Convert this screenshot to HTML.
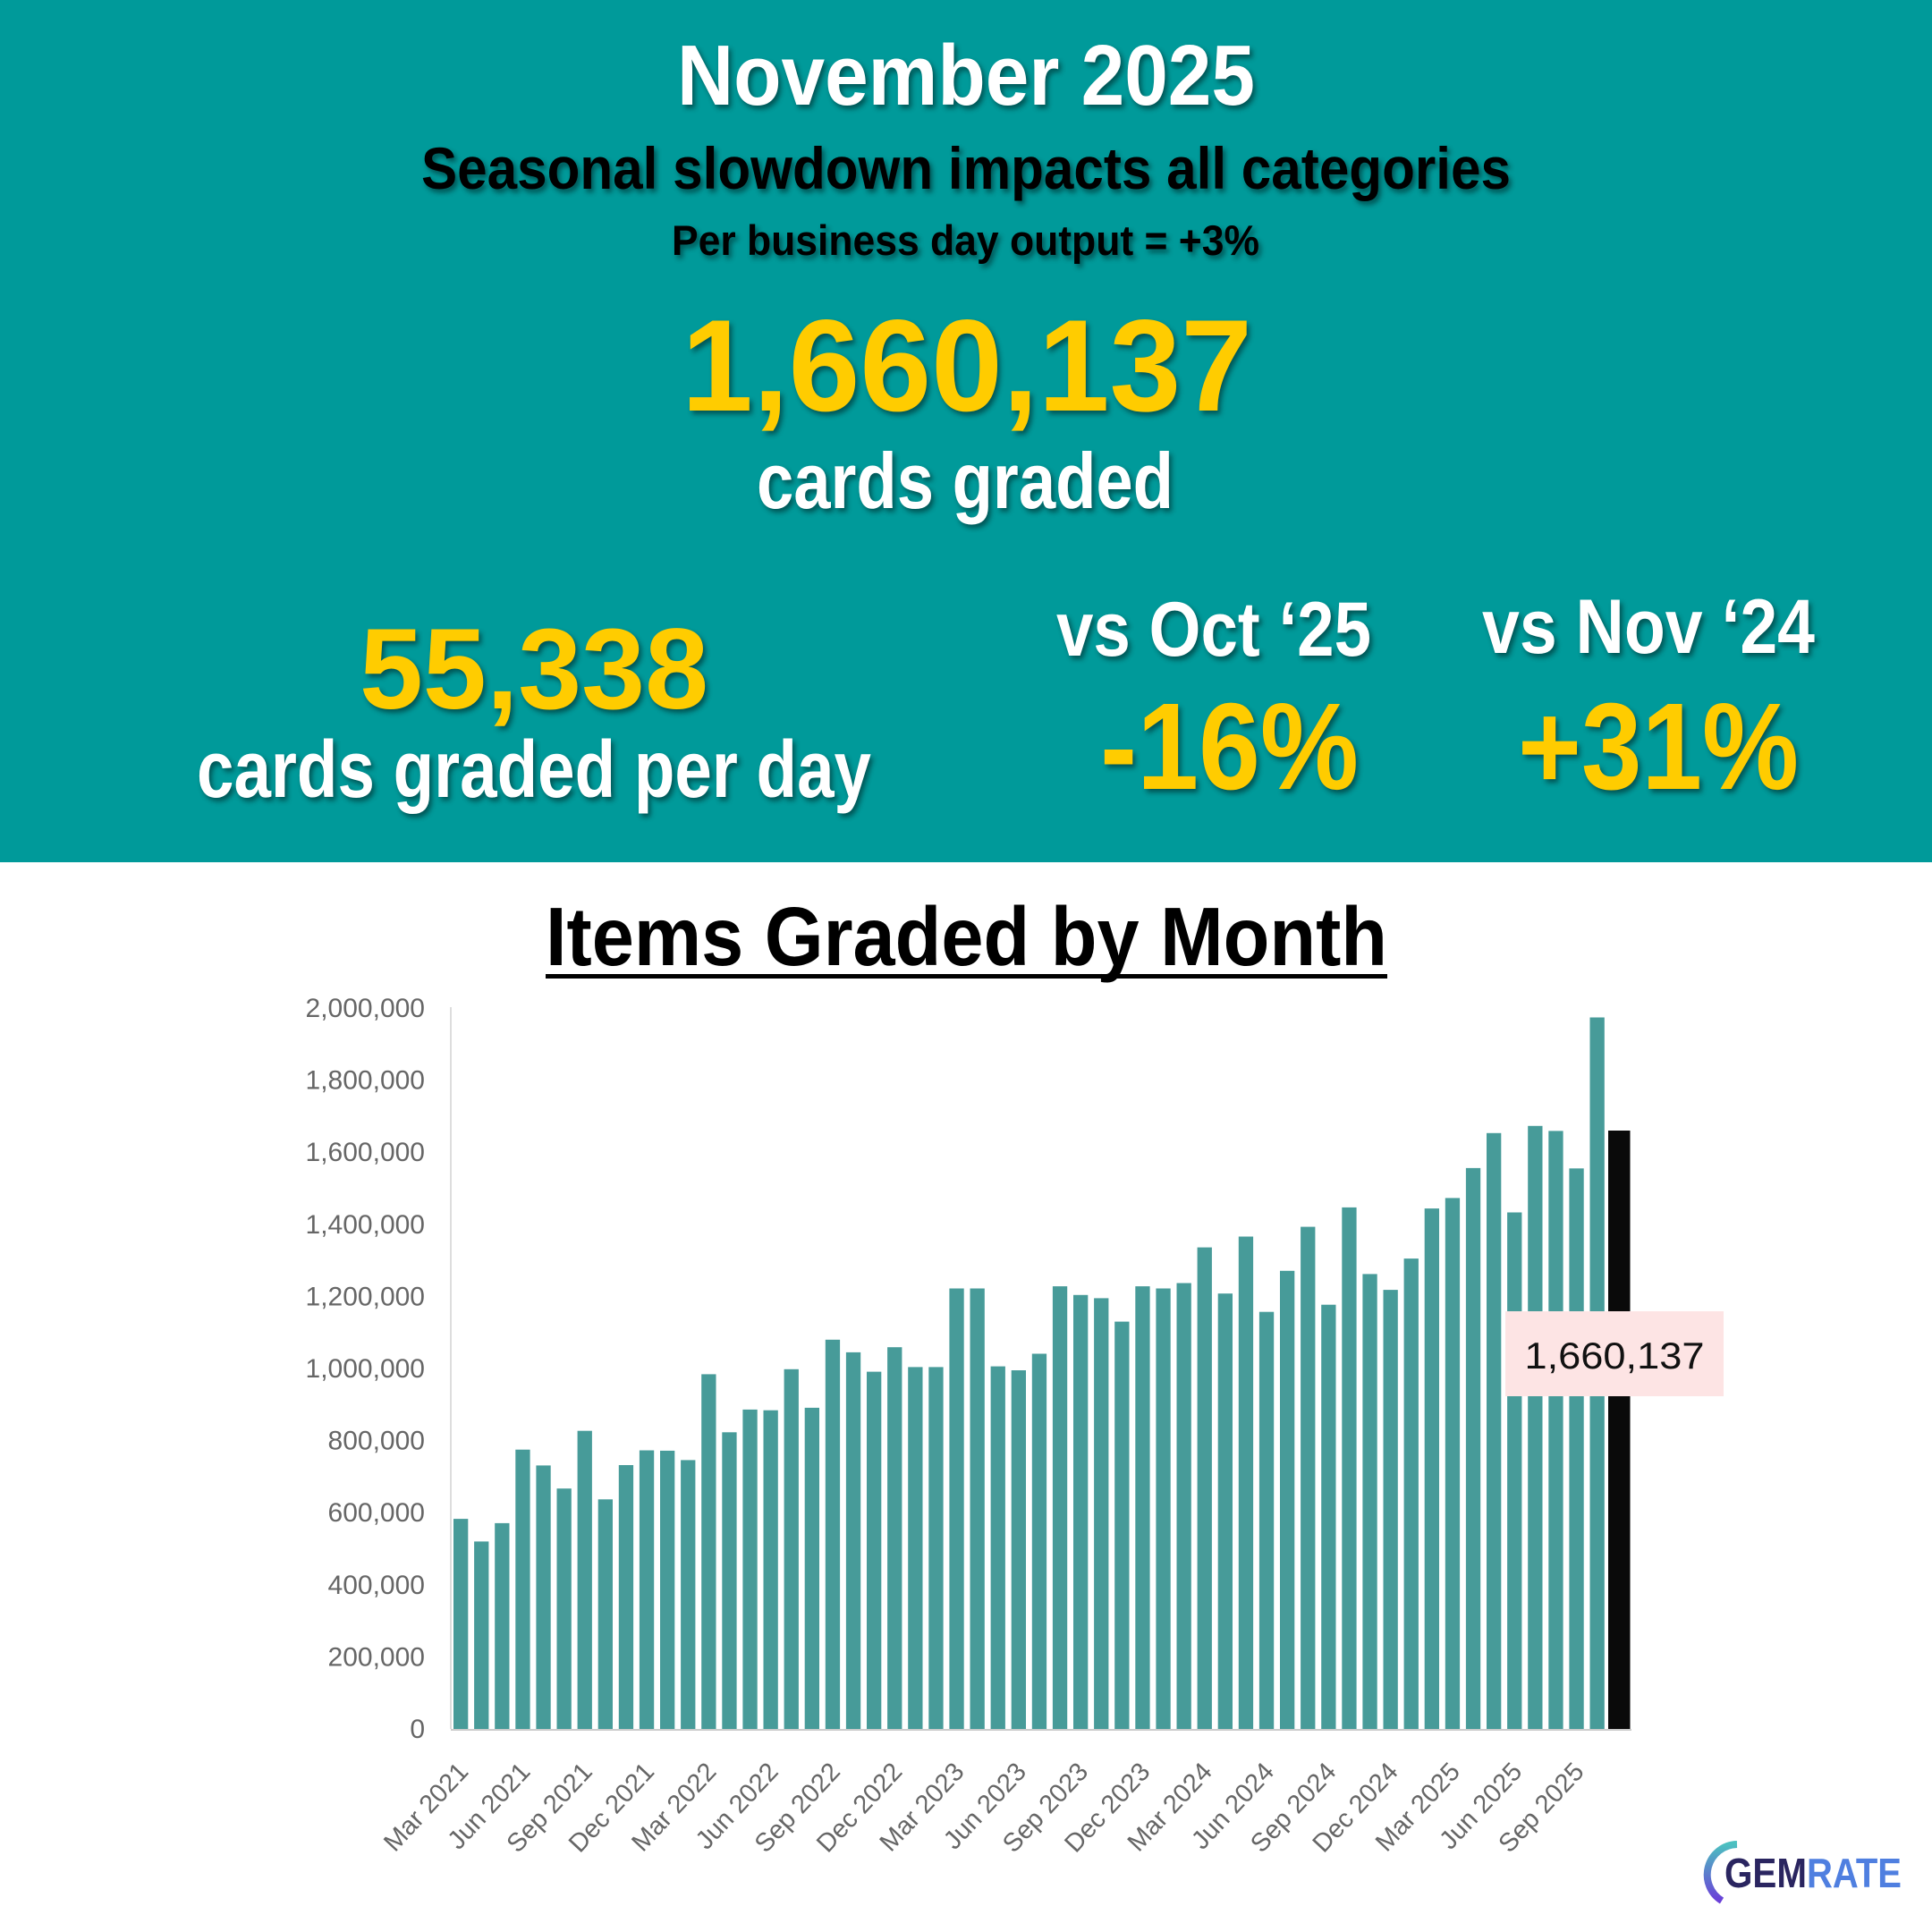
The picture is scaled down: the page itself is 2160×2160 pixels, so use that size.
<!DOCTYPE html>
<html><head><meta charset="utf-8">
<style>
html,body{margin:0;padding:0;background:#fff;}
svg{display:block;}
text{font-family:"Liberation Sans",Arial,sans-serif;}
.sh{filter:drop-shadow(3px 4px 3px rgba(0,0,0,0.45));}
.b{font-weight:bold;}
</style></head><body>
<svg id="s" xmlns="http://www.w3.org/2000/svg" width="2160" height="2160" viewBox="0 0 2160 2160">
<rect x="0" y="0" width="2160" height="2160" fill="#fff"/>
<rect x="0" y="0" width="2160" height="964" fill="#009a9a"/>
<g class="b" text-anchor="start" lengthAdjust="spacingAndGlyphs">
<text class="sh" x="757" y="117" font-size="96" fill="#fff" textLength="646" lengthAdjust="spacingAndGlyphs">November 2025</text>
<text class="sh" x="471" y="211" font-size="66" fill="#000" textLength="1218" lengthAdjust="spacingAndGlyphs">Seasonal slowdown impacts all categories</text>
<text class="sh" x="751" y="285" font-size="47" fill="#000" textLength="657" lengthAdjust="spacingAndGlyphs">Per business day output = +3%</text>
<text class="sh" x="762" y="459" font-size="146" fill="#ffcc00" textLength="638" lengthAdjust="spacingAndGlyphs">1,660,137</text>
<text class="sh" x="846" y="568" font-size="88" fill="#fff" textLength="466" lengthAdjust="spacingAndGlyphs">cards graded</text>
<text class="sh" x="402" y="792" font-size="128" fill="#ffcc00" textLength="390" lengthAdjust="spacingAndGlyphs">55,338</text>
<text class="sh" x="220" y="891" font-size="90" fill="#fff" textLength="754" lengthAdjust="spacingAndGlyphs">cards graded per day</text>
<text class="sh" x="1181" y="733" font-size="86" fill="#fff" textLength="352" lengthAdjust="spacingAndGlyphs">vs Oct ‘25</text>
<text class="sh" x="1657" y="730" font-size="86" fill="#fff" textLength="372" lengthAdjust="spacingAndGlyphs">vs Nov ‘24</text>
<text class="sh" x="1230" y="882" font-size="138" fill="#ffcc00" textLength="289" lengthAdjust="spacingAndGlyphs">-16%</text>
<text class="sh" x="1697" y="882" font-size="138" fill="#ffcc00" textLength="314" lengthAdjust="spacingAndGlyphs">+31%</text>
<text x="610" y="1079" font-size="93" fill="#000" textLength="941" lengthAdjust="spacingAndGlyphs">Items Graded by Month</text>
</g>
<rect x="610" y="1089" width="941" height="5" fill="#000"/>
<g id="chart"></g>
<rect x="1683" y="1466" width="244" height="95" fill="#fde4e4"/>
<text x="1805" y="1530" font-size="42" fill="#111" text-anchor="middle" textLength="201" lengthAdjust="spacingAndGlyphs">1,660,137</text>
<defs><linearGradient id="lg" x1="0" y1="0" x2="0" y2="1"><stop offset="0" stop-color="#4cc0c0"/><stop offset="1" stop-color="#6a3fd8"/></linearGradient></defs>
<path d="M1942 2062 A34 34 0 0 0 1925 2125" fill="none" stroke="url(#lg)" stroke-width="8"/>
<text x="1928" y="2110" font-size="46" class="b" fill="#2a2560" textLength="92" lengthAdjust="spacingAndGlyphs">GEM</text>
<text x="2020" y="2110" font-size="46" class="b" fill="#4f7fe0" textLength="106" lengthAdjust="spacingAndGlyphs">RATE</text>
</svg>
<script>
(function(){
var v=[583,520,571,775,731,667,827,637,732,773,772,746,984,823,886,884,998,891,1080,1045,991,1059,1004,1004,1222,1222,1006,995,1041,1228,1204,1195,1130,1228,1222,1237,1336,1208,1366,1157,1271,1393,1177,1447,1262,1218,1305,1444,1473,1556,1653,1433,1673,1659,1555,1974];
var g=document.getElementById("chart"),h="";
var base=1933,sc=806/2000;
for(var k=0;k<=10;k++){var y=base-k*200*sc;var lab=(k*200000).toLocaleString("en-US");
h+='<text x="475" y="'+(y+10)+'" font-size="30" fill="#666" text-anchor="end">'+lab+'</text>';}
h+='<line x1="504" y1="1126" x2="504" y2="1933" stroke="#ddd" stroke-width="2"/>';
h+='<line x1="504" y1="1934" x2="1824" y2="1934" stroke="#ccc" stroke-width="2"/>';
for(var i=0;i<v.length;i++){var x=507+i*23.1,hh=v[i]*sc;
h+='<rect x="'+x.toFixed(1)+'" y="'+(base-hh).toFixed(1)+'" width="16.3" height="'+hh.toFixed(1)+'" fill="#479b99"/>';}
var bh=1660.137*sc;
h+='<rect x="1798" y="'+(base-bh).toFixed(1)+'" width="24.5" height="'+bh.toFixed(1)+'" fill="#0a0a0a"/>';
var m=["Mar","Jun","Sep","Dec"];
for(var j=0;j<19;j++){var idx=j*3;var cx=507+idx*23.1+8;var yr=2021+Math.floor((idx+2)/12);
var lab=m[j%4]+" "+yr;
h+='<text transform="translate('+(cx+10)+',1982) rotate(-47)" font-size="29" fill="#666" text-anchor="end">'+lab+'</text>';}
g.innerHTML=h;
})();
</script>
</body></html>
